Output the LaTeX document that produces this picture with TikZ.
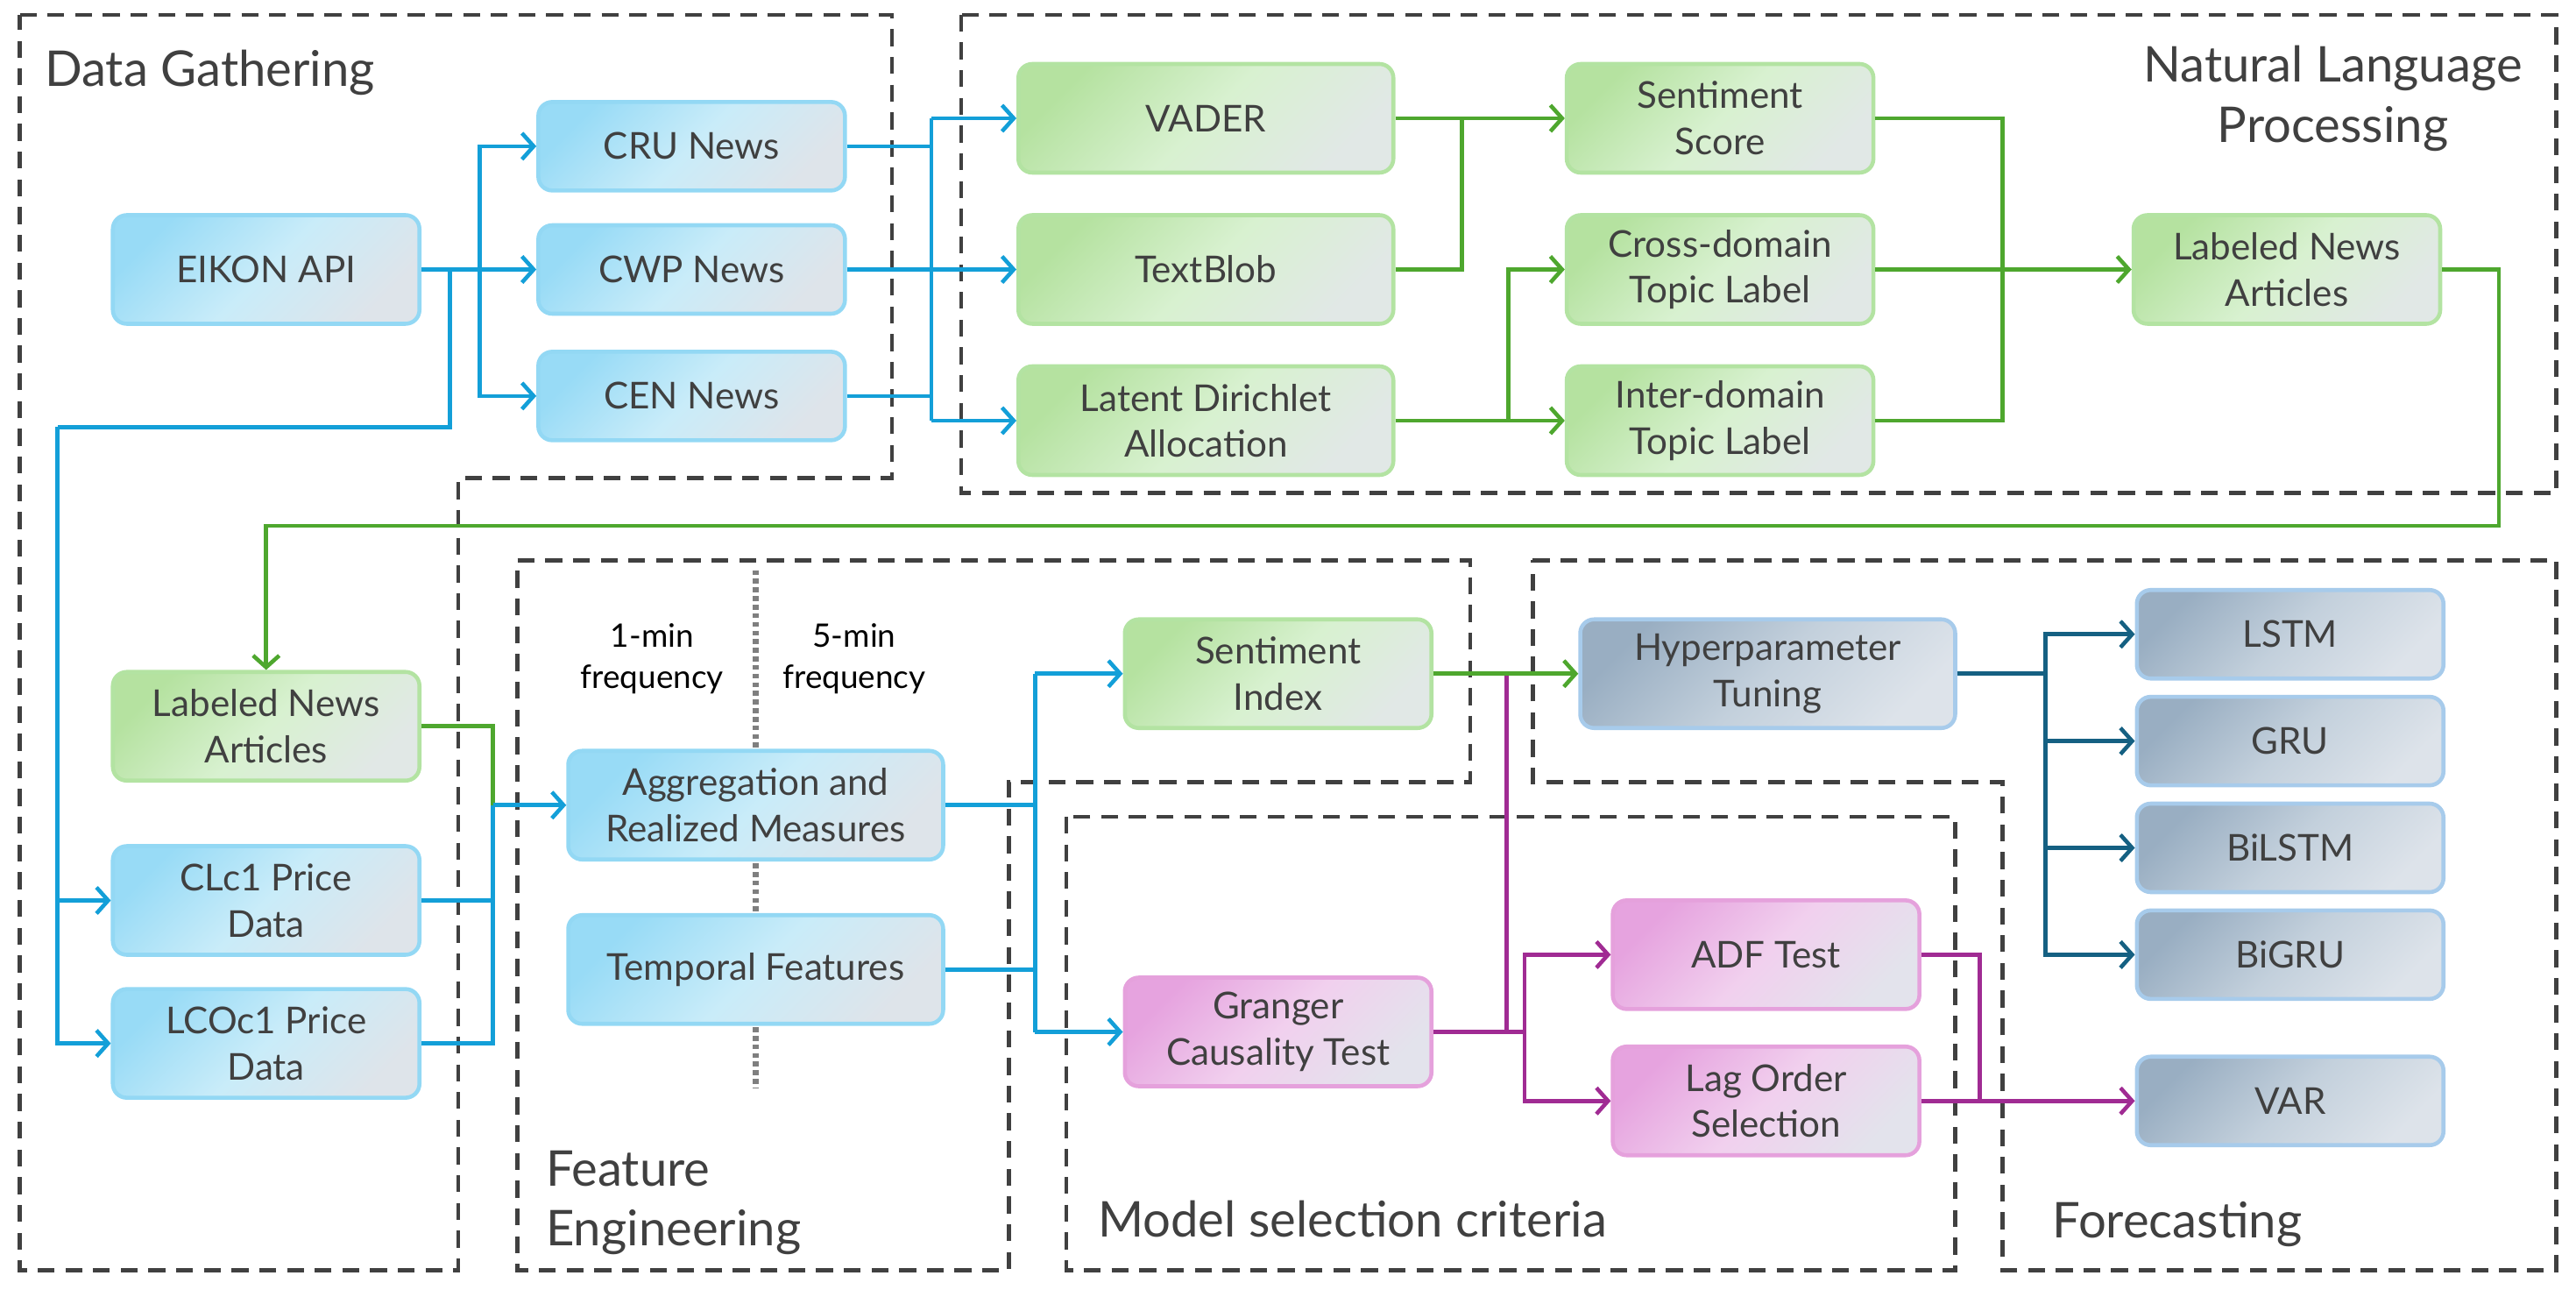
\documentclass[tikz,border=0pt]{standalone}
\usepackage{fontspec}
\setmainfont{Lato}
\usepackage{tikz}
\usetikzlibrary{positioning,arrows.meta,calc}
\definecolor{txtc}{HTML}{404040}
\definecolor{zonec}{HTML}{404040}
\definecolor{splitc}{HTML}{7F7F7F}
\definecolor{bluea}{HTML}{98DBF6}
\definecolor{blueb}{HTML}{C9ECF9}
\definecolor{bluec}{HTML}{DEE4EA}
\definecolor{blued}{HTML}{93D8F4}
\definecolor{greena}{HTML}{B5E2A0}
\definecolor{greenb}{HTML}{D8F1D0}
\definecolor{greenc}{HTML}{E1E8E6}
\definecolor{greend}{HTML}{B3E3A2}
\definecolor{pinka}{HTML}{E6A3DF}
\definecolor{pinkb}{HTML}{F1D0EE}
\definecolor{pinkc}{HTML}{E3E3EC}
\definecolor{pinkd}{HTML}{E5A1DC}
\definecolor{greya}{HTML}{99AEC2}
\definecolor{greyb}{HTML}{C3D0DC}
\definecolor{greyc}{HTML}{DDE3EA}
\definecolor{greyd}{HTML}{A7CBEB}
\definecolor{blinec}{HTML}{139FD8}
\definecolor{glinec}{HTML}{4EA72E}
\definecolor{mlinec}{HTML}{A02B93}
\definecolor{dlinec}{HTML}{156082}
\tikzset{
  base/.style={rounded corners=4.5pt, line width=1.3pt, align=center, text=txtc,
    font=\fontsize{12}{15}\selectfont, inner sep=0pt, minimum width=3.5cm, minimum height=1.24cm},
  bluebox/.style={base, draw=blued, top color=bluea, bottom color=bluec, middle color=blueb, shading angle=45},
  greenbox/.style={base, draw=greend, top color=greena, bottom color=greenc, middle color=greenb, shading angle=45},
  pinkbox/.style={base, draw=pinkd, top color=pinka, bottom color=pinkc, middle color=pinkb, shading angle=45},
  greybox/.style={base, draw=greyd, top color=greya, bottom color=greyc, middle color=greyb, shading angle=45},
  wide/.style={minimum width=4.28cm},
  flat/.style={minimum height=1.01cm},
  zone/.style={draw=zonec, line width=1.3pt, dash pattern=on 5.5pt off 3.5pt},
  title/.style={text=txtc, inner sep=0pt, font=\fontsize{16}{19.5}\selectfont},
  bl/.style={draw=blinec, line width=1.3pt},
  gr/.style={draw=glinec, line width=1.3pt},
  mg/.style={draw=mlinec, line width=1.3pt},
  db/.style={draw=dlinec, line width=1.3pt}
}

\begin{document}
\begin{tikzpicture}[x=0.01875cm, y=-0.01875cm, >={Straight Barb[length=3.8pt,width=8.5pt]}]
  \useasboundingbox (0,0) rectangle (1568,789);

  % dashed stage frames
  \draw[zone] (12,9) -- (543,9) -- (543,291) -- (279,291) -- (279,773) -- (12,773) -- cycle;
  \draw[zone] (585,9) rectangle (1556,300);
  \draw[zone] (315,341) -- (895,341) -- (895,476) -- (614,476) -- (614,773) -- (315,773) -- cycle;
  \draw[zone] (649,497) rectangle (1190,773);
  \draw[zone] (933,341) -- (1556,341) -- (1556,773) -- (1219,773) -- (1219,476) -- (933,476) -- cycle;

  \node[title, anchor=west] (tdata) at (27,44) {Data Gathering};
  \node[title, align=center] (tnlp) at (1420,60) {Natural Language\\Processing};
  \node[title, align=left, anchor=west] (tfeat) at (332,732) {Feature\\Engineering};
  \node[title, anchor=west] (tmodel) at (668,742) {Model selection criteria};
  \node[title, anchor=west] (tfore) at (1249,745) {Forecasting};

  % sampling split
  \draw[splitc, line width=1.8pt, dash pattern=on 1.6pt off 1.2pt] (460,347) -- (460,662);
  \node[align=center, font=\fontsize{10.5}{13.3}\selectfont] (onemin) at (397,401) {1-min\\frequency};
  \node[align=center, font=\fontsize{10.5}{13.3}\selectfont] (fivemin) at (520,401) {5-min\\frequency};

  % data gathering
  \node[bluebox] (eikon) at (162,164) {EIKON API};
  \node[bluebox, flat] (cru) at (421,89) {CRU News};
  \node[bluebox, flat] (cwp) at (421,164) {CWP News};
  \node[bluebox, flat] (cen) at (421,241) {CEN News};
  \node[greenbox] (labfe) at (162,442) {Labeled News\\Articles};
  \node[bluebox] (clc) at (162,548) {CLc1 Price\\Data};
  \node[bluebox] (lco) at (162,635) {LCOc1 Price\\Data};

  % nlp
  \node[greenbox, wide] (vader) at (734,72) {VADER};
  \node[greenbox, wide] (textblob) at (734,164) {TextBlob};
  \node[greenbox, wide] (lda) at (734,256) {Latent Dirichlet\\Allocation};
  \node[greenbox] (score) at (1047,72) {Sentiment\\Score};
  \node[greenbox] (cross) at (1047,164) {Cross-domain\\Topic Label};
  \node[greenbox] (inter) at (1047,256) {Inter-domain\\Topic Label};
  \node[greenbox] (labnlp) at (1392,164) {Labeled News\\Articles};

  % features and model selection
  \node[bluebox, wide] (agg) at (460,490) {Aggregation and\\Realized Measures};
  \node[bluebox, wide] (temp) at (460,590) {Temporal Features};
  \node[greenbox] (sidx) at (778,410) {Sentiment\\Index};
  \node[pinkbox] (granger) at (778,628) {Granger\\Causality Test};
  \node[pinkbox] (adf) at (1075,581) {ADF Test};
  \node[pinkbox] (lag) at (1075,670) {Lag Order\\Selection};

  % forecasting
  \node[greybox, wide] (hyper) at (1076,410) {Hyperparameter\\Tuning};
  \node[greybox, flat] (lstm) at (1394,386) {LSTM};
  \node[greybox, flat] (gru) at (1394,451) {GRU};
  \node[greybox, flat] (bilstm) at (1394,516) {BiLSTM};
  \node[greybox, flat] (bigru) at (1394,581) {BiGRU};
  \node[greybox, flat] (var) at (1394,670) {VAR};

  \coordinate (busA) at (292,0);
  \coordinate (dropA) at (274,260);
  \coordinate (dropB) at (35,260);
  \coordinate (busN) at (567,0);
  \coordinate (busT) at (890,0);
  \coordinate (busL) at (918,0);
  \coordinate (busS) at (1219,0);
  \coordinate (loopR) at (1521,320);
  \coordinate (busF) at (300,0);
  \coordinate (busG) at (630,0);
  \coordinate (busM) at (917,0);
  \coordinate (busK) at (928,0);
  \coordinate (busV) at (1205,0);
  \coordinate (busH) at (1245,0);

  % news and prices
  \draw[bl] (eikon.east) -- (eikon.east -| busA);
  \draw[bl,->] (eikon.east -| busA) |- (cru.west);
  \draw[bl,->] (eikon.east) -- (cwp.west);
  \draw[bl,->] (eikon.east -| busA) |- (cen.west);
  \draw[bl] (eikon.east -| dropA) -- (dropA) -- (dropB);
  \draw[bl,->] (dropB) |- (clc.west);
  \draw[bl,->] (dropB) |- (lco.west);

  \draw[bl] (cru.east) -- (cru.east -| busN);
  \draw[bl] (cen.east) -- (cen.east -| busN);
  \draw[bl] (vader.west -| busN) -- (lda.west -| busN);
  \draw[bl,->] (vader.west -| busN) -- (vader.west);
  \draw[bl,->] (cwp.east) -- (textblob.west);
  \draw[bl,->] (lda.west -| busN) -- (lda.west);

  % labelling
  \draw[gr,->] (vader.east) -- (score.west);
  \draw[gr] (textblob.east) -| (vader.east -| busT);
  \draw[gr,->] (lda.east) -- (inter.west);
  \draw[gr,->] (lda.east -| busL) |- (cross.west);
  \draw[gr] (score.east) -| (labnlp.west -| busS);
  \draw[gr] (inter.east) -| (labnlp.west -| busS);
  \draw[gr,->] (cross.east) -- (labnlp.west);
  \draw[gr,->] (labnlp.east) -| (loopR) -| (labfe.north);

  % features
  \draw[gr] (labfe.east) -| (agg.west -| busF);
  \draw[bl] (clc.east) -| (agg.west -| busF);
  \draw[bl] (lco.east) -| (agg.west -| busF);
  \draw[bl,->] (agg.west -| busF) -- (agg.west);
  \draw[bl] (agg.east) -- (agg.east -| busG);
  \draw[bl] (temp.east) -- (temp.east -| busG);
  \draw[bl] (sidx.west -| busG) -- (granger.west -| busG);
  \draw[bl,->] (sidx.west -| busG) -- (sidx.west);
  \draw[bl,->] (granger.west -| busG) -- (granger.west);

  % selection and models
  \draw[mg] (granger.east) -| (sidx.east -| busM);
  \draw[gr,->] (sidx.east) -- (hyper.west);
  \draw[mg] (granger.east) -- (granger.east -| busK);
  \draw[mg,->] (granger.east -| busK) |- (adf.west);
  \draw[mg,->] (granger.east -| busK) |- (lag.west);
  \draw[mg] (adf.east) -| (lag.east -| busV);
  \draw[mg,->] (lag.east) -- (var.west);
  \draw[db] (hyper.east) -- (hyper.east -| busH);
  \foreach \m in {lstm,gru,bilstm,bigru}
    \draw[db,->] (hyper.east -| busH) |- (\m.west);
\end{tikzpicture}
\end{document}
